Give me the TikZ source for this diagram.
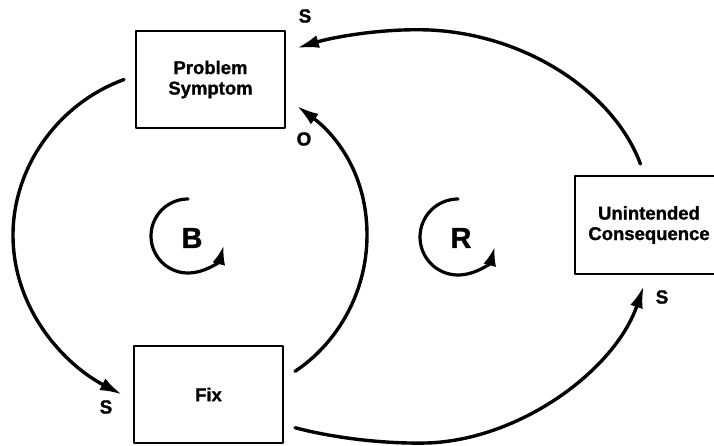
\documentclass[tikz,border=0pt]{standalone}
\usepackage{fontspec}
\setmainfont[BoldFeatures={FakeBold=1.2}]{Liberation Sans}
\usetikzlibrary{arrows.meta}

\tikzset{
  box/.style={draw, line width=2.4pt, outer sep=12pt, inner sep=0pt,
    minimum width=149pt, minimum height=97pt, align=center,
    font=\fontsize{18.5}{20.5}\selectfont\bfseries},
  link/.style={line width=3.4pt, -{Latex[length=22pt,width=13pt]}},
  turn/.style={line width=3.2pt, -{Latex[length=19pt,width=13pt]}},
  sign/.style={inner sep=0pt, font=\fontsize{19}{22}\selectfont\bfseries},
  looptag/.style={inner sep=0pt, font=\fontsize{29}{32}\selectfont\bfseries},
}

\begin{document}
\begin{tikzpicture}[x=1pt, y=-1pt, line cap=round, line join=round]

  %% ════ 方框 ════
  \node[box] (ps)  at (210.5,79.5)  {Problem\\Symptom};
  \node[box] (fix) at (208.5,394.5) {Fix};
  \node[box, minimum width=148pt, minimum height=98pt] (uc) at (649,225) {Unintended\\Consequence};

  %% ════ 连线（左环 B）════
  \draw[link] (ps.west) .. controls (55,105) and (13,170) .. (13,235)
              .. controls (13,310) and (65,365) .. (fix.west);
  \draw[link] (fix.15) .. controls (335,345) and (367,295) .. (367,235)
              .. controls (367,170) and (332,132) .. (ps.-17);

  %% ════ 连线（右环 R）════
  \draw[link] (uc.98) .. controls (615,95) and (530,35) .. (430,30)
              .. controls (380,28) and (330,38) .. (ps.20);
  \draw[link] (fix.-21) .. controls (330,437) and (380,444) .. (427,443)
              .. controls (520,440) and (615,370) .. (uc.265);

  %% ════ 极性标签 ════
  \node[sign] (sTop) at (305,16)  {S};
  \node[sign] (oPs)  at (304,139) {O};
  \node[sign] (sFix) at (106,407) {S};
  \node[sign] (sUc)  at (662,297) {S};

  %% ════ 环标记 ════
  \draw[turn] (188,199) arc[start angle=90, end angle=345, radius=37pt];
  \node[looptag] (loopB) at (192,238) {B};
  \draw[turn] (458,199) arc[start angle=90, end angle=345, radius=38pt];
  \node[looptag] (loopR) at (461,238) {R};

  % 钉死画布
  \pgfresetboundingbox
  \path[use as bounding box] (0,0) rectangle (714,446);
\end{tikzpicture}
\end{document}
